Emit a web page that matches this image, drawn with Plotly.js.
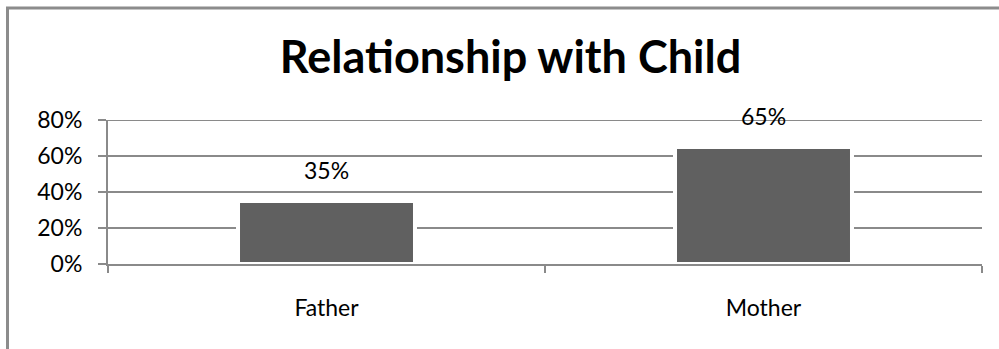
<!DOCTYPE html>
<html>
<head>
<meta charset="utf-8">
<script src="https://cdn.plot.ly/plotly-3.0.1.min.js"></script>
<style>html,body{margin:0;padding:0;background:#fff;}#chart{width:999px;height:349px;}</style>
</head>
<body>
<div id="chart"></div>
<script>
const categories = ["Father", "Mother"];
const shares = [0.35, 0.65];
const valueLabels = ["35%", "65%"];
const yTicks = [0, 0.2, 0.4, 0.6, 0.8];
const chartTitle = "Relationship with Child";

const W = 999, H = 349;
const M = {l: 108, r: 17, t: 120, b: 85};
const pw = W - M.l - M.r, ph = H - M.t - M.b;
const px = x => (x - M.l) / pw;
const py = y => (H - M.b - y) / ph;

const FONT = "Lato, 'Open Sans', sans-serif";
const GRID = "#8a8a8a";
const yMax = yTicks[yTicks.length - 1];

const trace = {
  type: "bar",
  x: categories,
  y: shares,
  width: 0.405,
  marker: {color: "#606060", line: {color: "#ffffff", width: 4}},
  hoverinfo: "skip"
};

const annotations = categories.map((c, i) => ({
  x: c, y: shares[i], xref: "x", yref: "y",
  text: valueLabels[i], showarrow: false,
  yanchor: "bottom", yshift: 15,
  font: {family: FONT, size: 23, color: "#000"}
}));

const layout = {
  width: W, height: H,
  margin: M,
  paper_bgcolor: "#fff", plot_bgcolor: "#fff",
  showlegend: false,
  title: {
    text: "<b>" + chartTitle + "</b>",
    font: {family: FONT, size: 45, color: "#000"},
    x: 0.511, xanchor: "center",
    y: 1 - 57 / H, yanchor: "middle", yref: "container"
  },
  xaxis: {
    type: "category",
    showline: true, linecolor: GRID, linewidth: 2,
    ticks: "outside", tickson: "boundaries", ticklen: 7, tickwidth: 2, tickcolor: GRID,
    showgrid: false, zeroline: false,
    ticklabelstandoff: 22,
    tickfont: {family: FONT, size: 23, color: "#000"},
    fixedrange: true
  },
  yaxis: {
    range: [0, yMax], tickvals: yTicks, tickformat: ".0%",
    showline: true, linecolor: GRID, linewidth: 2,
    ticks: "outside", ticklen: 8, tickwidth: 2, tickcolor: GRID,
    showgrid: true, gridcolor: GRID, gridwidth: 2,
    zeroline: false,
    ticklabelstandoff: 11,
    tickfont: {family: FONT, size: 23, color: "#000"},
    fixedrange: true
  },
  annotations: annotations,
  shapes: [
    {type: "line", xref: "paper", yref: "y", x0: 0, x1: 1, y0: yMax, y1: yMax,
     line: {color: GRID, width: 2}, layer: "below"},
    {type: "line", xref: "paper", yref: "paper", x0: px(7.5), x1: px(7.5), y0: py(7), y1: py(H + 5),
     line: {color: "#8c8c8c", width: 3}},
    {type: "line", xref: "paper", yref: "paper", x0: px(6), x1: px(W + 5), y0: py(8), y1: py(8),
     line: {color: "#8c8c8c", width: 3}}
  ]
};

Plotly.newPlot("chart", [trace], layout, {displayModeBar: false, staticPlot: true});
</script>
</body>
</html>
